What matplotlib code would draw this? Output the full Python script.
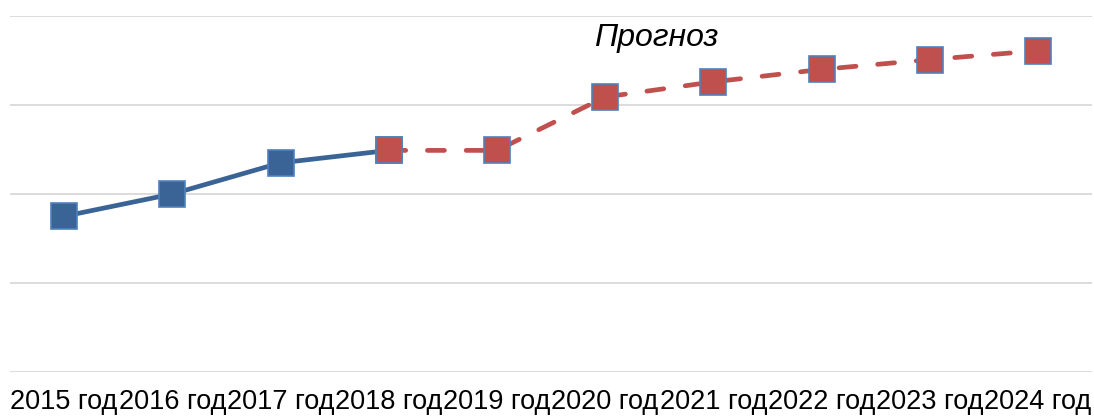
import matplotlib.pyplot as plt

# data (arbitrary units, gridlines at 0..4)
years = ['2015 год', '2016 год', '2017 год', '2018 год', '2019 год',
         '2020 год', '2021 год', '2022 год', '2023 год', '2024 год']
fact = [1.75, 2.0, 2.35, 2.49]
forecast = [2.49, 2.49, 3.09, 3.26, 3.40, 3.51, 3.61]

plt.rcParams['font.family'] = ['Liberation Sans', 'DejaVu Sans']

fig = plt.figure(figsize=(10.94, 4.17), dpi=100)
ax = fig.add_axes([10 / 1094, 45 / 417, 1082 / 1094, 356 / 417])

x_fact = list(range(len(fact)))
x_fc = list(range(len(fact) - 1, len(years)))

ax.plot(x_fact, fact, color='#3B6496', lw=3.4, marker='s', ms=18.5,
        mfc='#3B6496', mec='#4F81BD', mew=1.2, clip_on=False, zorder=3)
ax.plot(x_fc, forecast, color='#C0504D', lw=3.4, ls=(0, (3.6, 4.6)),
        dash_capstyle='round', marker='s', ms=18.5,
        mfc='#C0504D', mec='#4F81BD', mew=1.2, clip_on=False, zorder=4)

ax.text(5.47, 3.75, 'Прогноз', fontsize=23, style='italic', ha='center', va='center')

ax.set_xlim(-0.5, len(years) - 0.5)
ax.set_ylim(0, 4)
ax.set_yticks([0, 1, 2, 3, 4])
ax.set_yticklabels([])
ax.set_xticks(range(len(years)))
ax.set_xticklabels(years, fontsize=19.5)
ax.tick_params(axis='both', length=0)
ax.tick_params(axis='x', pad=12)
ax.grid(axis='y', color='#D9D9D9', lw=1.3)
ax.set_axisbelow(True)
for s in ax.spines.values():
    s.set_visible(False)

fig.savefig('out.png', dpi=100)
